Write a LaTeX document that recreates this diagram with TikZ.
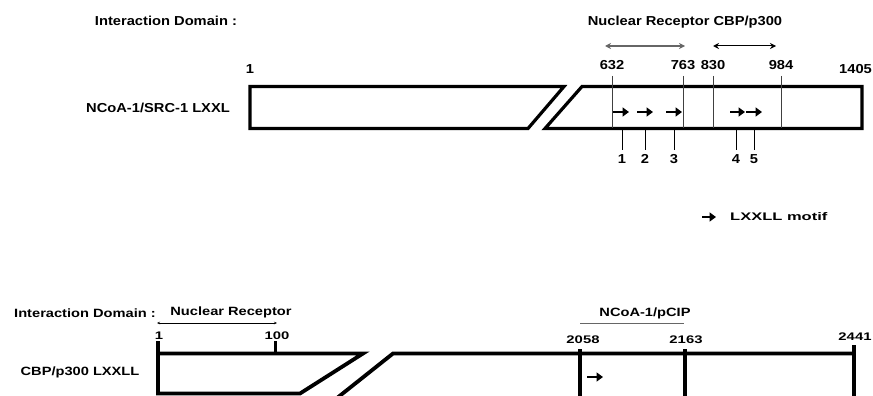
\documentclass[tikz,border=0pt]{standalone}
\usepackage{graphicx}
\usepackage{fontspec}
\setmainfont{Liberation Sans}
\usepackage{tikz}
\usetikzlibrary{arrows,arrows.meta}

% text widened to the look of the figure
\newcommand{\wtop}[1]{\scalebox{1.13}[1]{#1}}
\newcommand{\wbot}[1]{\scalebox{1.22}[1]{#1}}
\newcommand{\wnum}[1]{\scalebox{1.35}[1]{#1}}
\newcommand{\wleg}[1]{\scalebox{1.5}[1]{#1}}

\tikzset{
  lbl/.style={inner sep=0pt, font=\fontsize{13}{13}\selectfont\bfseries},
  lblsmall/.style={inner sep=0pt, font=\fontsize{12}{12}\selectfont\bfseries},
  lblnum/.style={inner sep=0pt, font=\fontsize{11}{11}\selectfont\bfseries},
  srcbox/.style={line width=3.2pt, line join=miter},
  cbpbox/.style={line width=3.8pt, line join=miter},
  fine/.style={line width=0.8pt},
  motif/.style={line width=2.6pt, -{Triangle[length=6.5pt,width=9pt]}},
  span/.style={line width=1pt, {Stealth[length=6pt,width=6pt]}-{Stealth[length=6pt,width=6pt]}}
}

\begin{document}
\begin{tikzpicture}[x=1pt,y=-1pt]
  \useasboundingbox (0,0) rectangle (873,396);

  % NCoA-1/SRC-1
  \node[lbl] (idomtop) at (166,21) {\wtop{Interaction Domain :}};
  \node[lbl] (nrcbp) at (685,22) {\wtop{Nuclear Receptor CBP/p300}};
  \node[lbl] (ncoa) at (158,108) {\wtop{NCoA-1/SRC-1 LXXL}};

  \draw[srcbox] (250,86.5) -- (564,86.5) -- (528,128.5) -- (250,128.5) -- cycle;
  \draw[srcbox] (582,86.5) -- (862,86.5) -- (862,128.5) -- (545,128.5) -- cycle;

  \node[lbl] (p1) at (250,69) {\wtop{1}};
  \node[lbl] (p1405) at (855.5,69) {\wtop{1405}};
  \foreach \x/\n in {612/632, 683/763, 713/830, 781/984} {
    \node[lbl] (p\n) at (\x,65) {\wtop{\n}};
    \coordinate (t\n) at (\x,76);
    \coordinate (b\n) at (\x,128);
    \draw[fine, black!75] (t\n) -- (b\n);
  }

  \coordinate (nrl) at (605,46);
  \coordinate (nrr) at (685,46);
  \coordinate (cbl) at (713,46);
  \coordinate (cbr) at (776,46);
  \draw[span, black!60, line width=1.5pt] (nrl) -- (nrr);
  \draw[span] (cbl) -- (cbr);

  % LXXLL motifs 1-5
  \foreach \a/\b/\t/\m in {613/629/622/1, 637/653/645/2, 666/682/674/3, 730/745/736/4, 746/762/754/5} {
    \coordinate (ms\m) at (\a,112);
    \coordinate (me\m) at (\b,112);
    \draw[motif] (ms\m) -- (me\m);
    \coordinate (ta\m) at (\t,130);
    \coordinate (tb\m) at (\t,150);
    \draw[fine] (ta\m) -- (tb\m);
    \node[lbl] (m\m) at (\t,159) {\wtop{\m}};
  }

  % legend
  \coordinate (lgs) at (702,217);
  \coordinate (lge) at (716,217);
  \draw[motif] (lgs) -- (lge);
  \node[lblnum, anchor=west] (lgtext) at (730,217) {\wleg{LXXLL motif}};

  % CBP/p300
  \node[lblsmall] (idombot) at (85,313) {\wbot{Interaction Domain :}};
  \node[lblsmall] (nrbot) at (231,312) {\wbot{Nuclear Receptor}};
  \node[lblsmall] (ncoabot) at (645,313) {\wbot{NCoA-1/pCIP}};
  \node[lblsmall] (cbp) at (80,372) {\wbot{CBP/p300 LXXLL}};

  \coordinate (nrbl) at (157,323);
  \coordinate (nrbr) at (277,323);
  \draw[line width=0.7pt, {Stealth[length=3pt,width=2.5pt]}-{Stealth[length=3pt,width=2.5pt]}] (nrbl) -- (nrbr);
  \coordinate (pcl) at (580,323);
  \coordinate (pcr) at (684,323);
  \draw[line width=0.8pt, black!60] (pcl) -- (pcr);

  \node[lblnum] (q1) at (159,336) {\wnum{1}};
  \node[lblnum] (q100) at (277,336) {\wnum{100}};
  \node[lblnum] (q2058) at (583,340) {\wnum{2058}};
  \node[lblnum] (q2163) at (686,340) {\wnum{2163}};
  \node[lblnum] (q2441) at (855,337) {\wnum{2441}};

  \draw[cbpbox] (158,341) -- (158,393.5) -- (300,393.5) -- (363,353.5) -- (158,353.5);
  \draw[cbpbox] (275.5,341) -- (275.5,353.5);
  \draw[cbpbox] (332,402) -- (393,353.5) -- (854,353.5);
  \draw[cbpbox] (580,349) -- (580,400);
  \draw[cbpbox] (685,349) -- (685,400);
  \draw[cbpbox] (854,345) -- (854,400);

  \coordinate (cms) at (587,377);
  \coordinate (cme) at (603,377);
  \draw[motif] (cms) -- (cme);
\end{tikzpicture}
\end{document}
